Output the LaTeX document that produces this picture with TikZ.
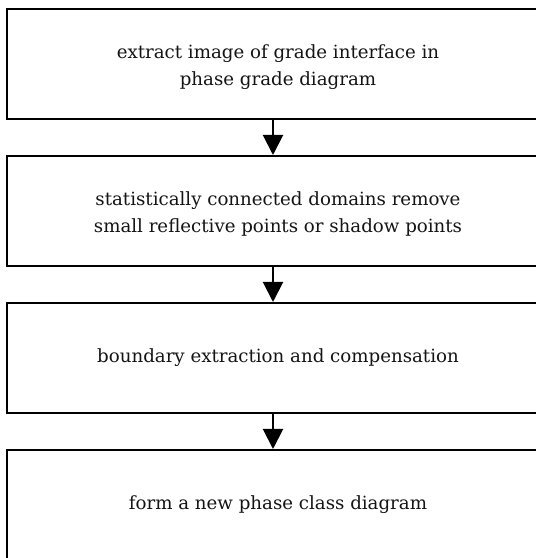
\documentclass[tikz,border=0pt]{standalone}
\usepackage{fontspec}
\setmainfont{DejaVu Serif}
\usetikzlibrary{arrows.meta}
\newcommand{\lowerstrut}{\rule{0pt}{20pt}}
\begin{document}
\begin{tikzpicture}[x=1pt,y=1pt,
  stepbox/.style={draw=black, line width=2pt, minimum width=542pt, minimum height=110pt,
    align=center, inner sep=0pt, font=\fontsize{18.2}{27}\selectfont, text=black!92},
  flow/.style={draw=black, line width=2pt, -{Triangle[width=20pt,length=20pt]}}]
\useasboundingbox (0,0) rectangle (536,558);
\node[stepbox] (b1) at (278,494) {\lowerstrut extract image of grade interface in\\phase grade diagram};
\node[stepbox] (b2) at (278,347) {\lowerstrut statistically connected domains remove\\small reflective points or shadow points};
\node[stepbox] (b3) at (278,200) {boundary extraction and compensation};
\node[stepbox] (b4) at (278,53) {form a new phase class diagram};
\draw[flow] ([xshift=-5pt]b1.south) -- ([xshift=-5pt]b2.north);
\draw[flow] ([xshift=-5pt]b2.south) -- ([xshift=-5pt]b3.north);
\draw[flow] ([xshift=-5pt]b3.south) -- ([xshift=-5pt]b4.north);
\end{tikzpicture}
\end{document}
